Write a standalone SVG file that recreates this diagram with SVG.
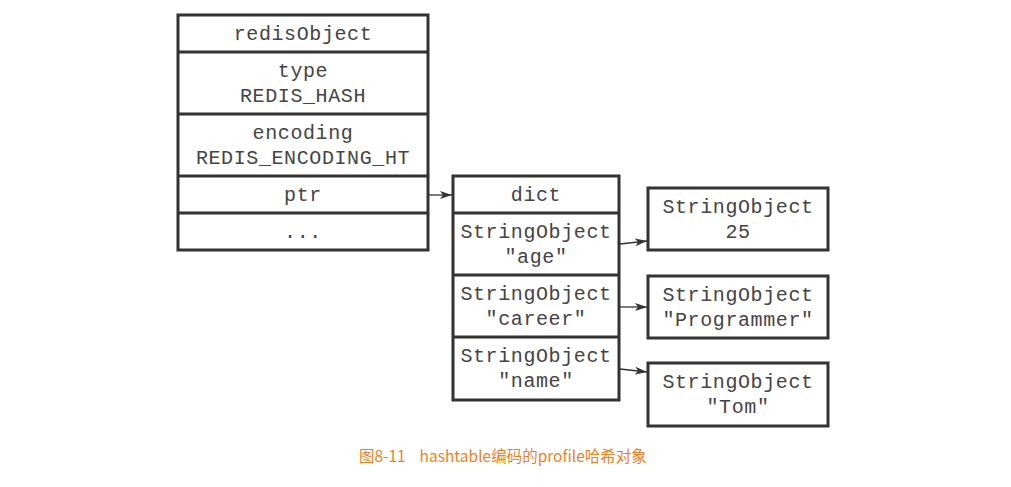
<svg xmlns="http://www.w3.org/2000/svg" width="1011" height="487" viewBox="0 0 1011 487">
<defs>
<marker id="ah" viewBox="0 0 12 10" refX="12" refY="5" markerWidth="12" markerHeight="10" markerUnits="userSpaceOnUse" orient="auto">
<path d="M0,1 L12,5 L0,9 L3,5 Z" fill="#333"/>
</marker>
</defs>
<style>
.box{fill:#fff;stroke:#333;stroke-width:3}
.div{stroke:#333;stroke-width:3}
.t{font-family:"Liberation Mono","Courier New",monospace;font-size:20px;fill:#444;text-anchor:middle;dominant-baseline:central;letter-spacing:0.6px}
.c{stroke:#333;stroke-width:1.3;fill:none;marker-end:url(#ah)}
.cap{font-family:"Noto Sans CJK SC","Noto Sans",sans-serif;font-size:15.5px;fill:#f07f1e}
</style>
<rect width="1011" height="487" fill="#fff"/>
<g id="redisObject">
<rect class="box" x="178" y="15" width="250" height="235"/>
<line class="div" x1="178" y1="52" x2="428" y2="52"/>
<line class="div" x1="178" y1="114" x2="428" y2="114"/>
<line class="div" x1="178" y1="176" x2="428" y2="176"/>
<line class="div" x1="178" y1="213" x2="428" y2="213"/>
<text class="t" x="303" y="34">redisObject</text>
<text class="t" x="303" y="71">type</text>
<text class="t" x="303" y="96">REDIS_HASH</text>
<text class="t" x="303" y="133">encoding</text>
<text class="t" x="303" y="158">REDIS_ENCODING_HT</text>
<text class="t" x="303" y="195">ptr</text>
<text class="t" x="303" y="232">...</text>
</g>
<g id="dict">
<rect class="box" x="453" y="176" width="166" height="224"/>
<line class="div" x1="453" y1="213" x2="619" y2="213"/>
<line class="div" x1="453" y1="275" x2="619" y2="275"/>
<line class="div" x1="453" y1="337" x2="619" y2="337"/>
<text class="t" x="536" y="195">dict</text>
<text class="t" x="536" y="232">StringObject</text>
<text class="t" x="536" y="257">"age"</text>
<text class="t" x="536" y="294">StringObject</text>
<text class="t" x="536" y="319">"career"</text>
<text class="t" x="536" y="356">StringObject</text>
<text class="t" x="536" y="381">"name"</text>
</g>
<g id="val-age">
<rect class="box" x="648" y="188" width="180" height="62"/>
<text class="t" x="738" y="207">StringObject</text>
<text class="t" x="738" y="232">25</text>
</g>
<g id="val-career">
<rect class="box" x="648" y="276" width="180" height="62"/>
<text class="t" x="738" y="295">StringObject</text>
<text class="t" x="738" y="320">"Programmer"</text>
</g>
<g id="val-name">
<rect class="box" x="648" y="363" width="180" height="63"/>
<text class="t" x="738" y="382">StringObject</text>
<text class="t" x="738" y="407">"Tom"</text>
</g>
<g id="connectors">
<line class="c" x1="429" y1="195" x2="452" y2="195"/>
<line class="c" x1="620" y1="244" x2="647" y2="241"/>
<line class="c" x1="620" y1="307" x2="647" y2="307"/>
<line class="c" x1="620" y1="369" x2="647" y2="372"/>
</g>
<text class="cap" x="359" y="462" xml:space="preserve">图8-11    hashtable编码的profile哈希对象</text>
</svg>
